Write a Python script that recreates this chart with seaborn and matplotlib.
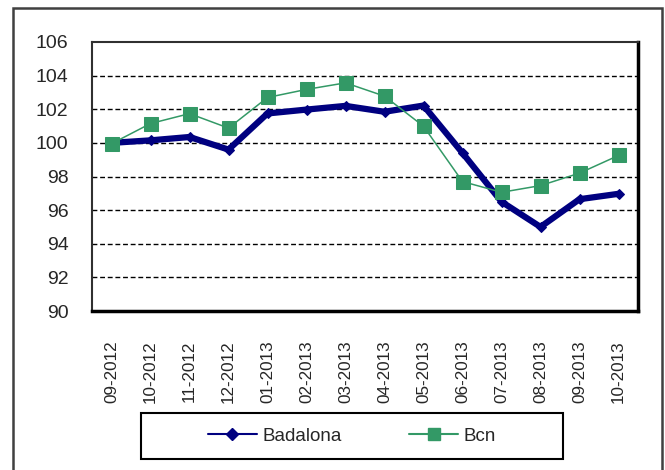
import pandas as pd
import matplotlib
matplotlib.use('Agg')
import matplotlib.pyplot as plt
from matplotlib.lines import Line2D
from matplotlib.patches import Rectangle
import seaborn as sns

months = ['09-2012', '10-2012', '11-2012', '12-2012', '01-2013', '02-2013', '03-2013',
          '04-2013', '05-2013', '06-2013', '07-2013', '08-2013', '09-2013', '10-2013']
badalona = [100.0, 100.15, 100.35, 99.6, 101.75, 101.98, 102.2, 101.85, 102.22,
            99.4, 96.5, 95.0, 96.65, 96.97]
bcn = [99.95, 101.15, 101.74, 100.88, 102.7, 103.18, 103.57, 102.78, 100.99,
       97.7, 97.06, 97.46, 98.2, 99.25]

navy = '#000080'
green = '#339966'

df = pd.DataFrame({'month': months, 'Badalona': badalona, 'Bcn': bcn})

sns.set_style('white')
plt.rcParams['font.family'] = ['Liberation Sans', 'DejaVu Sans']

fig = plt.figure(figsize=(6.65, 4.70), dpi=100)
ax = fig.add_axes([92 / 665, 1 - 311 / 470, 546 / 665, 269 / 470])

sns.lineplot(data=df, x='month', y='Badalona', ax=ax, color=navy, linewidth=4.5,
             marker='D', markersize=5, markeredgecolor=navy, sort=False, zorder=3)
sns.lineplot(data=df, x='month', y='Bcn', ax=ax, color=green, linewidth=1.1,
             marker='s', markersize=10.5, markeredgecolor=green, sort=False, zorder=4)

ax.set_xlim(-0.5, len(months) - 0.5)
ax.set_ylim(90, 106)
ax.set_yticks(range(90, 107, 2))
ax.set_xticks(range(len(months)))
ax.set_xticklabels(months, rotation=90)
ax.set_xticks([i - 0.5 for i in range(len(months) + 1)], minor=True)
ax.tick_params(axis='x', which='major', length=0, pad=21, labelsize=12.3)
ax.tick_params(axis='x', which='minor', length=5, width=1.2, direction='out', color='black')
ax.tick_params(axis='y', length=5, width=1.2, direction='out', color='black', pad=12, labelsize=14)
ax.set_xlabel('')
ax.set_ylabel('')

for y in range(92, 106, 2):
    ax.axhline(y, color='black', linewidth=1, linestyle=(0, (3.5, 2)), zorder=1)

for side in ['left', 'top']:
    ax.spines[side].set_color('#303030')
    ax.spines[side].set_linewidth(1.5)
for side in ['right', 'bottom']:
    ax.spines[side].set_color('black')
    ax.spines[side].set_linewidth(2.5)

# outer chart border
fig.patches.append(Rectangle((13 / 665, -0.05), 649 / 665, 1.05 - 8 / 470,
                             transform=fig.transFigure, fill=False,
                             edgecolor='#404040', linewidth=1.8))
# legend box
fig.patches.append(Rectangle((141 / 665, 1 - 459 / 470), 422 / 665, 46 / 470,
                             transform=fig.transFigure, fill=False,
                             edgecolor='black', linewidth=1.5))

handles = [Line2D([], [], color=navy, linewidth=1.5, marker='D', markersize=6),
           Line2D([], [], color=green, linewidth=1.5, marker='s', markersize=8)]
fig.legend(handles, ['Badalona', 'Bcn'], loc='center', bbox_to_anchor=(352 / 665, 1 - 436 / 470),
           ncol=2, frameon=False, fontsize=13.5, handlelength=2.6, handletextpad=0.3,
           columnspacing=3.6)

fig.savefig('out.png', dpi=100)
